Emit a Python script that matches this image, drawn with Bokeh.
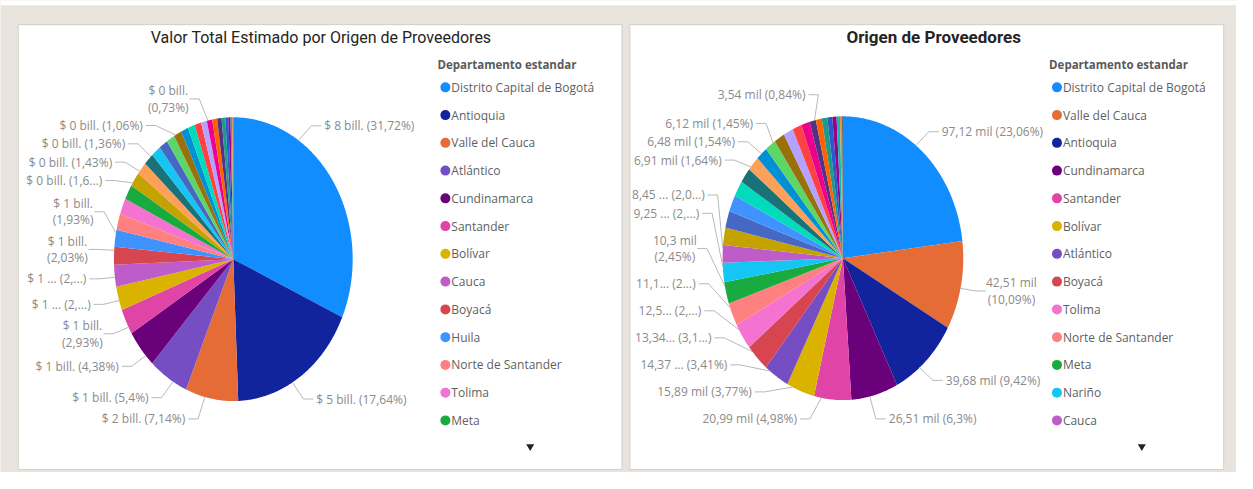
import math
from bokeh.plotting import figure
from bokeh.models import Range1d
from bokeh.core.properties import value
from bokeh.embed import file_html
from bokeh.resources import INLINE

# ---------------- data ----------------
title_left = "Valor Total Estimado por Origen de Proveedores"
title_right = "Origen de Proveedores"
legend_title = "Departamento estandar"

departments = ["Distrito Capital de Bogotá", "Antioquia", "Valle del Cauca", "Atlántico",
               "Cundinamarca", "Santander", "Bolívar", "Cauca", "Boyacá", "Huila",
               "Norte de Santander", "Tolima", "Meta", "Nariño", "Magdalena", "Córdoba",
               "Caldas", "Cesar", "Risaralda", "Casanare", "Quindío", "Sucre", "La Guajira",
               "Caquetá", "Chocó", "Putumayo", "Arauca", "San Andrés", "Amazonas",
               "Guaviare", "Vichada", "Vaupés", "Guainía"]
dept_colors = ["#118DFF", "#12239E", "#E66C37", "#744EC2", "#6B007B", "#E044A7", "#D9B300",
               "#BE5DC9", "#D64550", "#4092FF", "#FF8080", "#F472D0", "#1AAB40", "#15C6F4",
               "#C4A200", "#FFA058", "#197278", "#4668C5", "#5BD667", "#99700A", "#0091D5",
               "#00DBBC", "#FF4141", "#B5A1FF", "#EC008C", "#FF6300", "#533285", "#1F9A85",
               "#255DCD", "#99008A", "#09BCAE", "#E98C3E", "#5F6B6D"]

# Left pie: share of total estimated value (%), in slice order
left_depts = ["Distrito Capital de Bogotá", "Antioquia", "Valle del Cauca", "Atlántico",
              "Cundinamarca", "Santander", "Bolívar", "Cauca", "Boyacá", "Huila",
              "Norte de Santander", "Tolima", "Meta", "Magdalena", "Córdoba", "Caldas",
              "Nariño", "Cesar", "Risaralda", "Casanare", "Quindío", "Sucre", "La Guajira",
              "Caquetá", "Chocó", "Putumayo", "Arauca", "San Andrés", "Amazonas",
              "Guaviare", "Vichada", "Vaupés", "Guainía"]
left_pct = [31.72, 17.64, 7.14, 5.40, 4.38, 2.93, 2.72, 2.48, 2.03, 1.93,
            1.86, 1.79, 1.71, 1.65, 1.43, 1.36, 1.30, 1.20, 1.12, 1.06,
            1.00, 0.95, 0.88, 0.80, 0.73, 0.66, 0.60, 0.50, 0.40, 0.30,
            0.20, 0.12, 0.05]
left_label_text = {
    "Distrito Capital de Bogotá": "$ 8 bill. (31,72%)",
    "Antioquia": "$ 5 bill. (17,64%)",
    "Valle del Cauca": "$ 2 bill. (7,14%)",
    "Atlántico": "$ 1 bill. (5,4%)",
    "Cundinamarca": "$ 1 bill. (4,38%)",
    "Santander": "$ 1 bill.\n(2,93%)",
    "Bolívar": "$ 1 ... (2,...)",
    "Cauca": "$ 1 ... (2,...)",
    "Boyacá": "$ 1 bill.\n(2,03%)",
    "Huila": "$ 1 bill.\n(1,93%)",
    "Magdalena": "$ 0 bill. (1,6...)",
    "Córdoba": "$ 0 bill. (1,43%)",
    "Caldas": "$ 0 bill. (1,36%)",
    "Casanare": "$ 0 bill. (1,06%)",
    "Chocó": "$ 0 bill.\n(0,73%)",
}

# Right pie: number of suppliers (miles), in slice order
right_depts = ["Distrito Capital de Bogotá", "Valle del Cauca", "Antioquia", "Cundinamarca",
               "Santander", "Bolívar", "Atlántico", "Boyacá", "Tolima", "Norte de Santander",
               "Meta", "Nariño", "Cauca", "Magdalena", "Cesar", "Huila", "Sucre", "Caldas",
               "Córdoba", "Quindío", "Risaralda", "Casanare", "Caquetá", "La Guajira",
               "Chocó", "Arauca", "Putumayo", "San Andrés", "Amazonas", "Guaviare",
               "Vichada", "Vaupés", "Guainía"]
right_mil = [97.12, 42.51, 39.68, 26.51, 20.99, 15.89, 14.37, 13.34, 12.55, 11.15,
             10.30, 9.25, 8.45, 8.30, 8.10, 7.90, 7.60, 7.30, 6.91, 6.48,
             6.12, 5.90, 5.60, 5.20, 4.80, 3.54, 3.40, 3.10, 2.80, 2.40,
             1.90, 1.10, 0.55]
right_label_text = {
    "Distrito Capital de Bogotá": "97,12 mil (23,06%)",
    "Valle del Cauca": "42,51 mil\n(10,09%)",
    "Antioquia": "39,68 mil (9,42%)",
    "Cundinamarca": "26,51 mil (6,3%)",
    "Santander": "20,99 mil (4,98%)",
    "Bolívar": "15,89 mil (3,77%)",
    "Atlántico": "14,37 ... (3,41%)",
    "Boyacá": "13,34... (3,1...)",
    "Tolima": "12,5... (2,...)",
    "Norte de Santander": "11,1... (2...)",
    "Meta": "10,3 mil\n(2,45%)",
    "Nariño": "9,25 ... (2,...)",
    "Cauca": "8,45 ... (2,0...)",
    "Córdoba": "6,91 mil (1,64%)",
    "Quindío": "6,48 mil (1,54%)",
    "Risaralda": "6,12 mil (1,45%)",
    "Arauca": "3,54 mil (0,84%)",
}
legend_count = 13

# ---------------- styling ----------------
color_of = dict(zip(departments, dept_colors))
BG = "#E9E3DD"
LABEL_FONT = "Open Sans"
LABEL_SIZE = 12
LABEL_COLOR = "#8A8A8A"
LEADER_COLOR = "#B8B8B8"
LEGEND_COLOR = "#5F5F5F"

REF_W, REF_H = 1253, 489
W, H = 1236, 472
p = figure(width=W, height=H, x_range=Range1d(0, REF_W), y_range=Range1d(REF_H, 0),
           output_backend="svg", toolbar_location=None, title=None,
           min_border=0, min_border_left=0, min_border_right=0,
           min_border_top=0, min_border_bottom=0)
p.xaxis.visible = False
p.yaxis.visible = False
p.grid.visible = False
p.outline_line_color = None
p.background_fill_color = BG
p.border_fill_color = BG

# top white strip and panels
p.quad(left=[0], right=[REF_W], top=[0], bottom=[5], fill_color="white", line_color=None)
p.quad(left=[18, 638], right=[630, 1240], top=[25, 25], bottom=[486, 486],
       fill_color="white", line_color="#D3CEC9", line_width=1)


def text_w(s, size=LABEL_SIZE):
    w = 0.0
    for ch in s:
        if ch.isdigit() or ch == "$":
            w += 0.572
        elif ch == " ":
            w += 0.26
        elif ch in ".,":
            w += 0.26
        elif ch in "()":
            w += 0.296
        elif ch == "%":
            w += 0.838
        elif ch in "il":
            w += 0.26
        elif ch == "m":
            w += 0.875
        elif ch.isupper():
            w += 0.65
        else:
            w += 0.56
    return 0.9 * w * size


def draw_panel(names, vals, label_text, cx, cy, rx, ry, legend_x, legend_names,
               title, title_x, title_bold, title_size, lim_l, lim_r, pad):
    total = float(sum(vals))
    acc = 0.0
    angs = []
    xs, ys, cols = [], [], []
    for n, v in zip(names, vals):
        a0 = acc / total * 2 * math.pi
        acc += v
        a1 = acc / total * 2 * math.pi
        angs.append((a0, a1))
        k = max(2, int((a1 - a0) / 0.01) + 1)
        px, py = [cx], [cy]
        for i in range(k + 1):
            a = a0 + (a1 - a0) * i / k
            px.append(cx + rx * math.sin(a))
            py.append(cy - ry * math.cos(a))
        xs.append(px)
        ys.append(py)
        cols.append(color_of[n])
    p.patches(xs, ys, fill_color=cols, line_color=None)

    # ----- labels -----
    RXL, RYL = rx + 29, ry + 28
    labs = []
    for n, (a0, a1) in zip(names, angs):
        t = label_text.get(n)
        if not t:
            continue
        lines = t.split("\n")
        mid = (a0 + a1) / 2
        side = 1 if mid <= math.pi else -1
        labs.append(dict(lines=lines, w=max(text_w(l) for l in lines), side=side,
                         y=cy - RYL * math.cos(mid), hh=8.5 * len(lines) + 1,
                         a0=a0, a1=a1))

    def xnear(lab, y=None):
        yy = lab["y"] if y is None else y
        t = (yy - cy) / RYL
        return cx + lab["side"] * RXL * math.sqrt(max(0.0, 1 - t * t))

    def xext(lab, y=None):
        x = xnear(lab, y)
        return (x, x + lab["w"]) if lab["side"] > 0 else (x - lab["w"], x)

    def xover(a, b):
        ax0, ax1 = xext(a)
        bx0, bx1 = xext(b)
        return not (ax1 < bx0 or bx1 < ax0)

    # keep labels clear of the legend / panel edge
    for lab in labs:
        d = -1 if lab["y"] < cy else 1
        for _ in range(250):
            x0, x1 = xext(lab)
            if x1 <= lim_r and x0 >= lim_l:
                break
            lab["y"] += d

    ymin, ymax = 84, 443
    for side in (1, -1):
        grp = [l for l in labs if l["side"] == side]
        lower = sorted([l for l in grp if l["y"] > cy - 40], key=lambda l: -l["y"])
        upper = sorted([l for l in grp if l["y"] <= cy - 40], key=lambda l: l["y"])
        prev = None
        for l in lower:
            l["y"] = min(l["y"], ymax - l["hh"])
            if prev is not None:
                l["y"] = min(l["y"], prev["y"] - prev["hh"] - l["hh"] - pad)
            prev = l
        placed = []
        for l in upper:
            l["y"] = max(l["y"], ymin + l["hh"])
            for _ in range(4):
                for q in placed:
                    if l["y"] - q["y"] < q["hh"] + l["hh"] and xover(l, q):
                        l["y"] = q["y"] + q["hh"] + l["hh"]
            placed.append(l)
        allg = sorted(grp, key=lambda l: -l["y"])
        for i, l in enumerate(allg):
            for q in allg[:i]:
                if q["y"] - l["y"] < q["hh"] + l["hh"] and xover(l, q):
                    l["y"] = q["y"] - q["hh"] - l["hh"]

    L_x, L_y, L_t = [], [], []
    R_x, R_y, R_t = [], [], []
    C_x, C_y, C_t = [], [], []
    lx, ly = [], []
    for lab in labs:
        xn = xnear(lab)
        side = lab["side"]
        y = lab["y"]
        lines = lab["lines"]
        if len(lines) == 1:
            if side < 0:
                R_x.append(xn); R_y.append(y); R_t.append(lines[0])
            else:
                L_x.append(xn); L_y.append(y); L_t.append(lines[0])
        else:
            xc = xn + side * lab["w"] / 2
            for k, line in enumerate(lines):
                C_x.append(xc)
                C_y.append(y + (k - (len(lines) - 1) / 2) * 17)
                C_t.append(line)
        sx, ex = xn - side * 3, xn - side * 13
        a0, a1 = lab["a0"], lab["a1"]
        lo, hi = a0 + 0.2 * (a1 - a0), a1 - 0.2 * (a1 - a0)
        best = None
        for i in range(61):
            a = lo + (hi - lo) * i / 60
            qx, qy = cx + rx * math.sin(a), cy - ry * math.cos(a)
            dist = math.hypot(qx - ex, qy - y)
            if best is None or dist < best[0]:
                best = (dist, qx, qy)
        lx.append([sx, ex, best[1]])
        ly.append([y, y, best[2]])
    p.multi_line(lx, ly, line_color=LEADER_COLOR, line_width=1)
    common = dict(text_font=value(LABEL_FONT), text_font_size=f"{LABEL_SIZE}px",
                  text_color=LABEL_COLOR, text_baseline="middle")
    if L_t:
        p.text(x=L_x, y=L_y, text=L_t, text_align="left", **common)
    if R_t:
        p.text(x=R_x, y=R_y, text=R_t, text_align="right", **common)
    if C_t:
        p.text(x=C_x, y=C_y, text=C_t, text_align="center", **common)

    # ----- legend -----
    p.text(x=[legend_x], y=[66], text=[legend_title], text_font=value(LABEL_FONT),
           text_font_size="11.5px", text_font_style="bold", text_color="#5A5A5A",
           text_baseline="middle", text_align="left")
    ly2 = [90 + 28.75 * i for i in range(len(legend_names))]
    p.scatter(x=[legend_x + 8] * len(legend_names), y=ly2, size=10,
              fill_color=[color_of[n] for n in legend_names], line_color=None)
    p.text(x=[legend_x + 14] * len(legend_names), y=ly2, text=legend_names,
           text_font=value(LABEL_FONT), text_font_size="12px", text_color=LEGEND_COLOR,
           text_baseline="middle", text_align="left")
    p.scatter(x=[legend_x + 94], y=[462], marker="inverted_triangle", size=8,
              fill_color="#252423", line_color=None)

    # ----- title -----
    p.text(x=[title_x], y=[38], text=[title], text_font=value("Roboto"),
           text_font_size=title_size, text_font_style="bold" if title_bold else "normal",
           text_color="#252423", text_baseline="middle", text_align="center")


draw_panel(left_depts, left_pct, left_label_text, 236, 268, 121, 147, 443,
           left_depts[:legend_count], title_left, 325, False, "16px", 24, 410, 3)
draw_panel(right_depts, right_mil, right_label_text, 854, 267, 122, 147, 1063,
           right_depts[:legend_count], title_right, 946, True, "17px", 644, 1053, 9)

open("out.html", "w").write(file_html(p, INLINE))
